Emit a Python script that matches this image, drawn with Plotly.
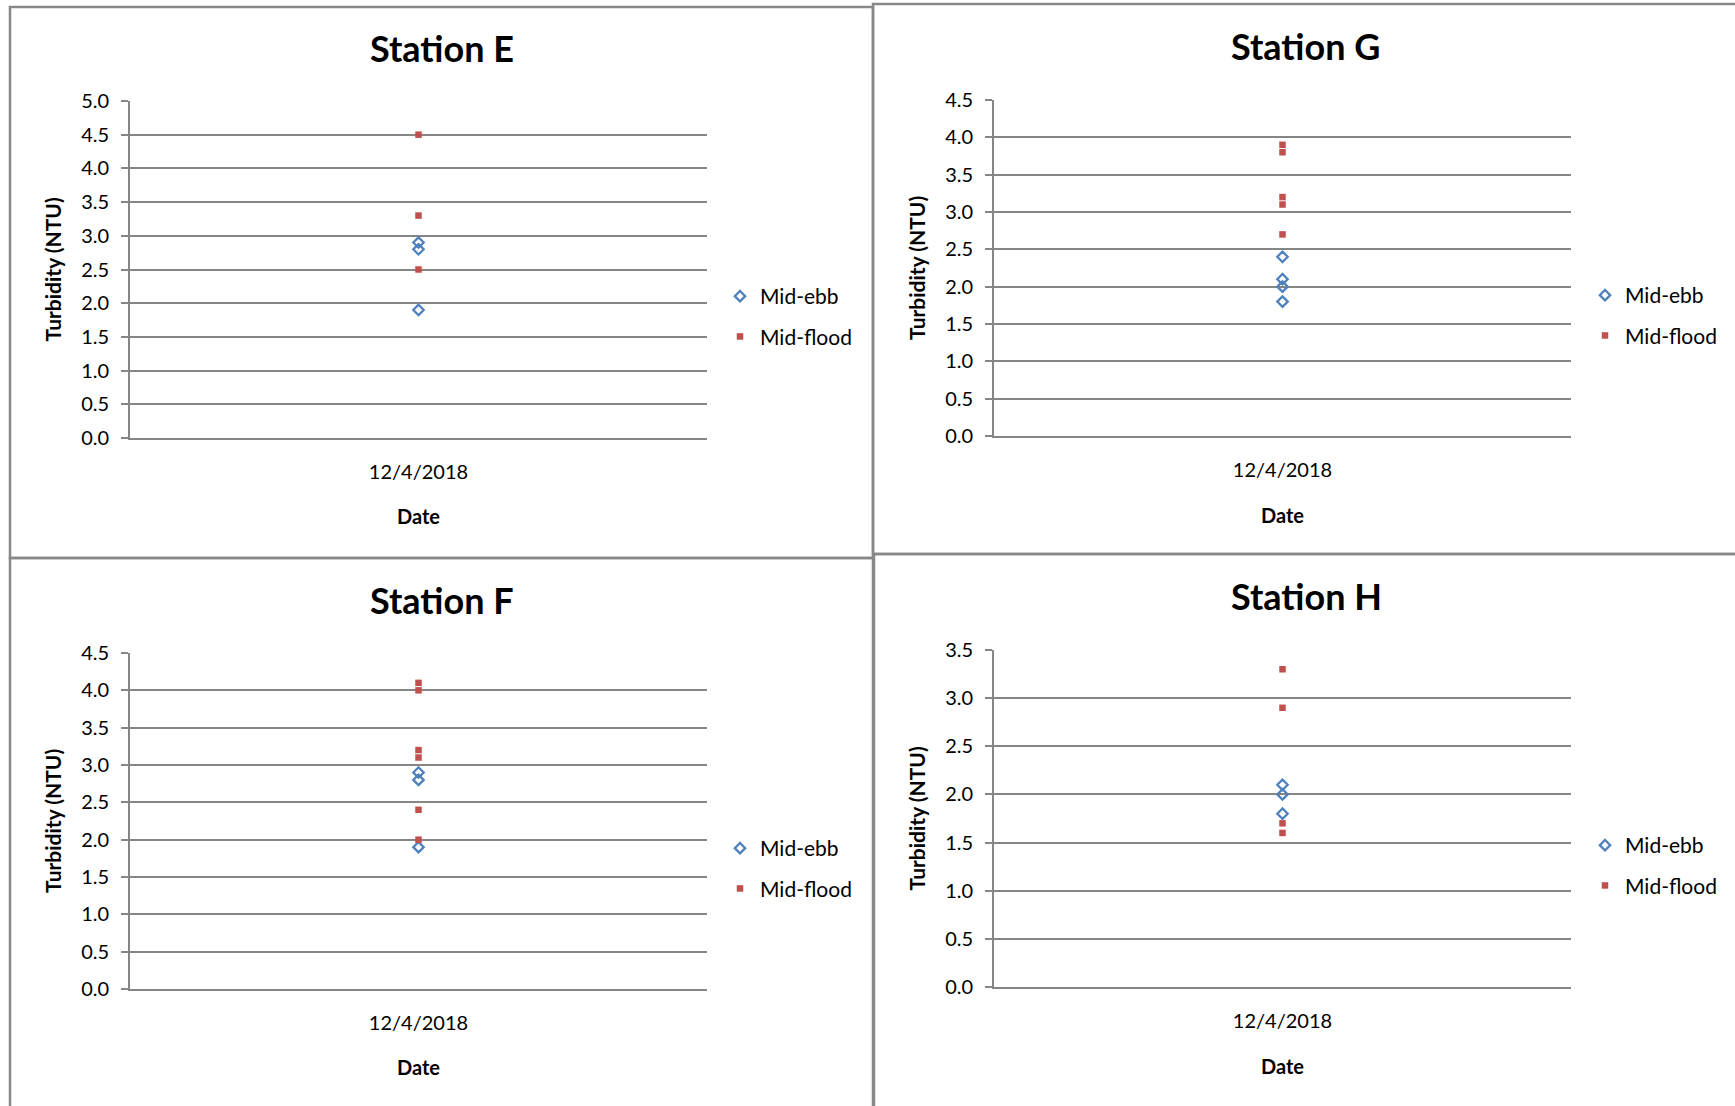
import plotly.graph_objects as go

W, H = 1735, 1106

# ---- data ----
date_label = "12/4/2018"
series_names = ["Mid-ebb", "Mid-flood"]

e_ebb = [2.9, 2.8, 1.9]
e_flood = [4.5, 3.3, 2.5]
g_ebb = [2.4, 2.1, 2.0, 1.8]
g_flood = [3.9, 3.8, 3.2, 3.1, 2.7]
f_ebb = [2.9, 2.8, 1.9]
f_flood = [4.1, 4.0, 3.2, 3.1, 2.4, 2.0]
h_ebb = [2.1, 2.0, 1.8]
h_flood = [3.3, 2.9, 1.7, 1.6]

# ---- styling / layout ----
FONT = "Lato"
GRID = "#868686"
BORDER = "#888888"
BLUE = "#4F81BD"
RED = "#C0504D"


def px(x):
    return x / W


def py(y):
    return 1 - y / H


panels = [
    dict(title="Station E", ebb=e_ebb, flood=e_flood, ymax=5.0,
         plot=(130, 707, 101, 438), box=(10, 7, 873, 558),
         title_y=48, ylab_x=52, date_y=516, leg=(720, 276)),
    dict(title="Station G", ebb=g_ebb, flood=g_flood, ymax=4.5,
         plot=(994, 1571, 100, 436), box=(873, 4, 1745, 554),
         title_y=46, ylab_x=916, date_y=515, leg=(1585, 275)),
    dict(title="Station F", ebb=f_ebb, flood=f_flood, ymax=4.5,
         plot=(130, 707, 653, 989), box=(10, 558, 873, 1115),
         title_y=600, ylab_x=52, date_y=1067, leg=(720, 828)),
    dict(title="Station H", ebb=h_ebb, flood=h_flood, ymax=3.5,
         plot=(994, 1571, 650, 987), box=(874, 554, 1745, 1115),
         title_y=596, ylab_x=916, date_y=1066, leg=(1585, 825)),
]

fig = go.Figure()
layout = dict(
    width=W, height=H,
    margin=dict(l=0, r=0, t=0, b=0, pad=0, autoexpand=False),
    paper_bgcolor="white", plot_bgcolor="white",
    font=dict(family=FONT, size=20, color="black"),
    shapes=[], annotations=[],
)

for i, p in enumerate(panels):
    n = "" if i == 0 else str(i + 1)
    xa, ya = "x" + n, "y" + n
    leg = "legend" + n
    x0, x1, yt, yb = p["plot"]

    fig.add_trace(go.Scatter(
        x=[date_label] * len(p["ebb"]), y=p["ebb"], mode="markers",
        name=series_names[0], xaxis=xa, yaxis=ya, legend=leg,
        legendgroup="ebb" + n,
        marker=dict(symbol="diamond-open", size=8, color=BLUE,
                    line=dict(width=2.3, color=BLUE)),
    ))
    fig.add_trace(go.Scatter(
        x=[date_label] * len(p["flood"]), y=p["flood"], mode="markers",
        name=series_names[1], xaxis=xa, yaxis=ya, legend=leg,
        legendgroup="flood" + n,
        marker=dict(symbol="square", size=6.5, color=RED,
                    line=dict(width=0)),
    ))

    layout["xaxis" + n] = dict(
        domain=[px(x0), px(x1)], anchor=ya, type="category",
        categoryarray=[date_label], range=[-0.5, 0.5],
        showgrid=False, zeroline=False, showline=True,
        linecolor=GRID, linewidth=1.6, ticks="", automargin=False,
        tickfont=dict(family=FONT, size=20), ticklabelstandoff=15,
    )
    layout["yaxis" + n] = dict(
        domain=[py(yb), py(yt)], anchor=xa, range=[0, p["ymax"]],
        dtick=0.5, tickformat=".1f", showgrid=True, gridcolor=GRID,
        gridwidth=1.6, zeroline=False, showline=True, linecolor=GRID,
        linewidth=1.6, ticks="outside", ticklen=7, tickcolor=GRID,
        tickwidth=1.6, tickfont=dict(family=FONT, size=20),
        ticklabelstandoff=8, automargin=False,
    )
    layout[leg] = dict(
        x=px(p["leg"][0]), y=py(p["leg"][1]), xanchor="left",
        yanchor="top", bgcolor="rgba(0,0,0,0)", borderwidth=0,
        font=dict(family=FONT, size=21), tracegroupgap=10,
        itemwidth=30,
    )

    bx0, by0, bx1, by1 = p["box"]
    layout["shapes"].append(dict(
        type="rect", xref="paper", yref="paper",
        x0=px(bx0), x1=px(bx1), y0=py(by1), y1=py(by0),
        line=dict(color=BORDER, width=2.5), layer="below",
    ))

    cx = (x0 + x1) / 2
    tx = (bx0 + min(bx1, 1738)) / 2
    layout["annotations"] += [
        dict(text=p["title"], xref="paper", yref="paper", x=px(tx),
             y=py(p["title_y"]), xanchor="center", yanchor="middle",
             showarrow=False,
             font=dict(family=FONT, size=36, weight="bold")),
        dict(text="Date", xref="paper", yref="paper", x=px(cx),
             y=py(p["date_y"]), xanchor="center", yanchor="middle",
             showarrow=False,
             font=dict(family=FONT, size=20, weight="bold")),
        dict(text="Turbidity (NTU)", xref="paper", yref="paper",
             x=px(p["ylab_x"]), y=py((yt + yb) / 2), textangle=-90,
             xanchor="center", yanchor="middle", showarrow=False,
             font=dict(family=FONT, size=21, weight="bold")),
    ]

fig.update_layout(**layout)
fig.write_html(
    "out.html",
    config={"displayModeBar": False},
    post_script="document.body.style.margin='0';"
                "document.documentElement.style.overflow='hidden';",
)
